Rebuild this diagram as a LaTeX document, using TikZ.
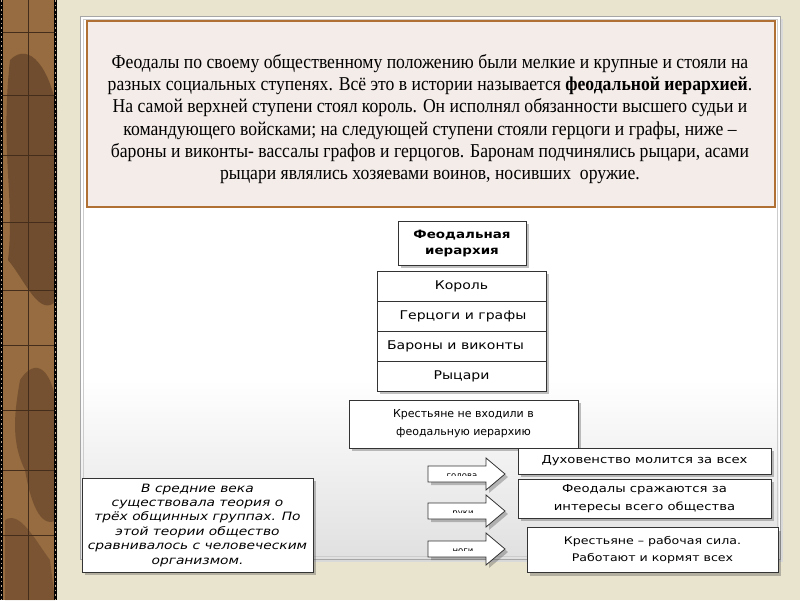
\documentclass[tikz,border=0pt]{standalone}
\usepackage{fontspec}
\setmainfont{Liberation Serif}
\newfontfamily\tfont[FakeStretch=0.9]{Liberation Serif}
\newfontfamily\dfont{DejaVu Sans}
\newfontfamily\dwide[FakeStretch=1.17]{DejaVu Sans}
\newfontfamily\dwider[FakeStretch=1.2]{DejaVu Sans}
\usetikzlibrary{shadows}
\definecolor{bgbeige}{RGB}{233,228,206}
\definecolor{stripbrown}{RGB}{150,108,64}
\definecolor{stripdark}{RGB}{98,64,40}
\definecolor{boxpink}{RGB}{244,236,232}
\definecolor{boxframe}{RGB}{176,112,52}
\tikzset{
  shad/.style={drop shadow={shadow xshift=3pt,shadow yshift=-3pt,opacity=0.35,fill=black!70}},
  box/.style={draw=black!80,line width=0.8pt,fill=white,inner sep=0pt,align=center,shad,
     font=\dfont\fontsize{11}{18}\selectfont},
  sidebox/.style={box,font=\dwider\fontsize{11}{18}\selectfont},
  rowbox/.style={draw=black!80,line width=0.8pt,inner sep=0pt,minimum width=169pt,minimum height=30pt,
     font=\dwide\fontsize{12}{13}\selectfont},
  blockarrow/.style={draw=black!80,line width=0.8pt,fill=white,shad},
  armark/.style={font=\dfont\fontsize{8.5}{9}\selectfont,inner sep=0pt,anchor=north},
  grid/.style={draw=stripdark!70!black,line width=0.7pt}
}
\begin{document}
\begin{tikzpicture}[x=1pt,y=-1pt]
\useasboundingbox (0,0) rectangle (800,600);
% background
\fill[bgbeige] (0,0) rectangle (800,600);
% left decorative strip
\fill[stripbrown] (0,0) rectangle (57,600);
\fill[stripdark,opacity=0.7] (10,60) .. controls (30,40) and (50,70) .. (57,110) -- (57,300) .. controls (40,320) and (25,280) .. (8,260) .. controls (15,200) and (0,150) .. (10,60) -- cycle;
\fill[stripdark,opacity=0.6] (20,380) .. controls (40,350) and (57,380) .. (57,420) -- (57,520) .. controls (40,530) and (30,500) .. (25,470) .. controls (10,440) and (15,410) .. (20,380) -- cycle;
\fill[stripdark,opacity=0.5] (5,520) .. controls (20,510) and (35,540) .. (50,560) -- (55,600) -- (5,600) -- cycle;
\draw[grid] (28,0) -- (28,600);
\foreach \yy in {32,95,155,222,290,345,410,470,535}{\draw[grid] (0,\yy) -- (57,\yy);}
\draw[black,line width=3pt] (1.5,0) -- (1.5,600);
\draw[black,line width=3pt] (55.5,0) -- (55.5,600);
\draw[stripbrown!60,line width=1pt,dash pattern=on 1.5pt off 3pt] (1.5,0) -- (1.5,600);
\draw[stripbrown!60,line width=1pt,dash pattern=on 1.5pt off 3pt] (55.5,0) -- (55.5,600);
% slide panel
\fill[black!15] (83,19) rectangle (783,562);
\fill[white] (80,16) rectangle (780,559);
\shade[top color=white,bottom color=black!12] (81,380) rectangle (779,558);
\draw[black!35,line width=0.8pt] (80,16) rectangle (780,559);
\draw[black!20,line width=0.6pt] (83,19) rectangle (777,556);
% top text box
\node[draw=boxframe,line width=2.5pt,fill=boxpink,minimum width=688pt,minimum height=186pt,inner sep=0pt] (intro) at (431,114) {};
\node[font=\tfont\fontsize{19.6}{22.2}\selectfont,align=center,inner sep=0pt] (introtext) at (430,119) {Феодалы по своему общественному положению были мелкие и крупные и стояли на\\
разных социальных ступенях. Всё это в истории называется \textbf{феодальной иерархией}.\\
На самой верхней ступени стоял король. Он исполнял обязанности высшего судьи и\\
командующего войсками; на следующей ступени стояли герцоги и графы, ниже –\\
бароны и виконты- вассалы графов и герцогов. Баронам подчинялись рыцари, асами\\
рыцари являлись хозяевами воинов, носивших \ оружие.};
% hierarchy
\node[box,minimum width=128pt,minimum height=44pt,font=\dwide\bfseries\fontsize{11.5}{16}\selectfont] (fh) at (462,243) {Феодальная\\иерархия};
\node[box,minimum width=169pt,minimum height=120pt] (stack) at (461.5,331) {};
\node[rowbox] (r1) at (461.5,286) {Король};
\node[rowbox] (r2) at (461.5,316) {\hspace*{3pt}Герцоги и графы};
\node[rowbox] (r3) at (461.5,346) {\hspace*{-12pt}Бароны и виконты};
\node[rowbox] (r4) at (461.5,376) {Рыцари};
\node[box,minimum width=229pt,minimum height=48pt] (peas) at (463.5,424) {Крестьяне не входили в\\феодальную иерархию};
% arrows
\path[blockarrow] (428,466) -- (486,466) -- (486,458) -- (505,474) -- (486,490) -- (486,482) -- (428,482) -- cycle;
\path[blockarrow] (428,503) -- (486,503) -- (486,495) -- (505,511) -- (486,527) -- (486,519) -- (428,519) -- cycle;
\path[blockarrow] (428,541) -- (486,541) -- (486,533) -- (505,549) -- (486,565) -- (486,557) -- (428,557) -- cycle;
\begin{scope}
\clip (429,467) rectangle (485,475.8);
\node[armark] (m1) at (462,474) {голова};
\end{scope}
\begin{scope}
\clip (429,504) rectangle (485,512.8);
\node[armark] (m2) at (463,511) {руки};
\end{scope}
\begin{scope}
\clip (429,542) rectangle (485,550.8);
\node[armark] (m3) at (463,549) {ноги};
\end{scope}
% right boxes
\node[sidebox,minimum width=253pt,minimum height=26pt] (b1) at (644.5,461) {Духовенство молится за всех};
\node[sidebox,minimum width=253pt,minimum height=39pt] (b2) at (644.5,498.5) {Феодалы сражаются за\\интересы всего общества};
\node[sidebox,minimum width=251pt,minimum height=45pt,font=\dwider\fontsize{10.5}{17.5}\selectfont] (b3) at (652.5,550) {Крестьяне – рабочая сила.\\Работают и кормят всех};
% left box
\node[box,minimum width=231pt,minimum height=94pt,font=\dwider\itshape\fontsize{11.5}{14.4}\selectfont] (theory) at (197.5,525) {В средние века\\существовала теория о\\трёх общинных группах. По\\этой теории общество\\сравнивалось с человеческим\\организмом.};
\end{tikzpicture}
\end{document}
